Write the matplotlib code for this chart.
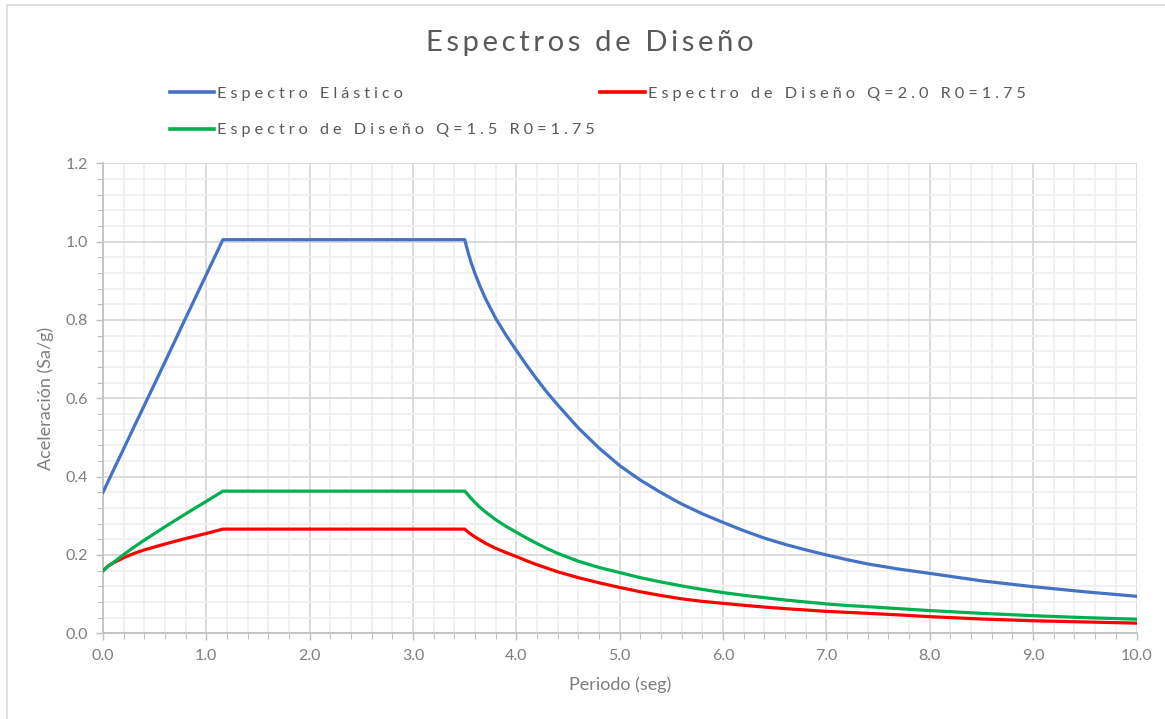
import numpy as np
import matplotlib
matplotlib.use('agg')
import matplotlib.pyplot as plt
import matplotlib.ticker as ticker
from matplotlib.lines import Line2D
from matplotlib.patches import Rectangle

# periodos (seg)
periodos = [0.0, 0.05, 0.1, 0.2, 0.3, 0.4, 0.6, 0.8, 1.0, 1.16,
            3.5, 3.53, 3.56, 3.6, 3.65, 3.7, 3.8, 3.9, 4.0, 4.1, 4.2, 4.3, 4.4, 4.6,
            4.8, 5.0, 5.2, 5.4, 5.6, 5.8, 6.0, 6.2, 6.4, 6.6, 6.8, 7.0, 7.2, 7.4, 7.7, 8.0,
            8.5, 9.0, 9.5, 10.0]
elastico = [0.36, 0.388, 0.416, 0.471, 0.527, 0.582, 0.693, 0.805, 0.916, 1.005,
            1.005, 0.975, 0.948, 0.918, 0.885, 0.855, 0.804, 0.761, 0.722, 0.684, 0.648, 0.614,
            0.583, 0.524, 0.473, 0.428, 0.391, 0.359, 0.330, 0.305, 0.283, 0.262,
            0.243, 0.227, 0.213, 0.200, 0.188, 0.177, 0.164, 0.153, 0.134, 0.119, 0.106, 0.0945]
diseno_q20 = [0.16, 0.172, 0.180, 0.193, 0.204, 0.213, 0.228, 0.242, 0.255, 0.266,
              0.266, 0.259, 0.253, 0.246, 0.238, 0.230, 0.217, 0.206, 0.196, 0.185, 0.175, 0.166,
              0.157, 0.142, 0.129, 0.117, 0.106, 0.0965, 0.088, 0.0815, 0.0765,
              0.0715, 0.067, 0.063, 0.0595, 0.056, 0.0535, 0.051, 0.047, 0.0425, 0.0365, 0.032,
              0.029, 0.026]
diseno_q15 = [0.16, 0.171, 0.181, 0.201, 0.220, 0.238, 0.272, 0.305, 0.337, 0.363,
              0.363, 0.354, 0.345, 0.334, 0.321, 0.310, 0.290, 0.273, 0.258, 0.243, 0.229, 0.216,
              0.204, 0.184, 0.168, 0.155, 0.142, 0.131, 0.121, 0.112, 0.104, 0.097,
              0.091, 0.085, 0.080, 0.075, 0.071, 0.068, 0.063, 0.058, 0.051, 0.045, 0.040, 0.036]

series = [('Espectro Elástico', elastico, '#4472C4'),
          ('Espectro de Diseño Q=2.0 R0=1.75', diseno_q20, '#FF0000'),
          ('Espectro de Diseño Q=1.5 R0=1.75', diseno_q15, '#00B050')]


def spaced(s, sep='\u2009'):
    # imitar el espaciado entre letras de Excel
    return sep.join(s)


plt.rcParams['font.family'] = ['Lato', 'DejaVu Sans']
gris = '#7F7F7F'

fig = plt.figure(figsize=(11.65, 7.19), dpi=100)
fig.patches.append(Rectangle((7 / 1165, -0.1), 1.2, 1.1 - 5 / 719, transform=fig.transFigure,
                             fill=False, edgecolor='#D9D9D9', linewidth=1.2))
ax = fig.add_axes([103 / 1165, 1 - 633.3 / 719, (1136.5 - 103) / 1165, (633.3 - 163.3) / 719])

for nombre, valores, color in series:
    ax.plot(periodos, valores, color=color, linewidth=2.3, solid_joinstyle='round', zorder=3)

ax.set_xlim(0, 10)
ax.set_ylim(0, 1.2)
ax.xaxis.set_major_locator(ticker.MultipleLocator(1.0))
ax.xaxis.set_minor_locator(ticker.MultipleLocator(0.2))
ax.yaxis.set_major_locator(ticker.MultipleLocator(0.2))
ax.yaxis.set_minor_locator(ticker.MultipleLocator(0.04))
ax.xaxis.set_major_formatter(ticker.StrMethodFormatter('{x:.1f}'))
ax.yaxis.set_major_formatter(ticker.StrMethodFormatter('{x:.1f}'))
ax.grid(which='major', color='#D9D9D9', linewidth=1.3)
ax.grid(which='minor', color='#F0F0F0', linewidth=1.3)
ax.set_axisbelow(True)
for s in ['top', 'right']:
    ax.spines[s].set_visible(False)
for s in ['left', 'bottom']:
    ax.spines[s].set_color('#BFBFBF')
    ax.spines[s].set_linewidth(1.2)
ax.tick_params(which='both', colors='#BFBFBF', labelcolor=gris, labelsize=11.5, direction='out')
ax.tick_params(which='major', length=5, width=1.0, pad=6)
ax.tick_params(which='minor', length=4, width=0.8)
ax.set_xlabel('Periodo (seg)', fontsize=13, color=gris, labelpad=10)
ax.set_ylabel('Aceleración (Sa/g)', fontsize=13, color=gris, labelpad=8)

fig.text(590 / 1165, 1 - 43 / 719, spaced('Espectros de Diseño'), ha='center', va='center',
         fontsize=21, color='#595959')

handles = [Line2D([], [], color=c, linewidth=2.6) for _, _, c in series]
labels = [spaced(n, '\u2009\u200a\u200a') for n, _, _ in series]
# orden columna por columna: Elastico, Q=1.5 | Q=2.0
leg = fig.legend([handles[0], handles[2], handles[1]], [labels[0], labels[2], labels[1]],
                 ncol=2, loc='upper left', bbox_to_anchor=(163 / 1165, 1 - 80 / 719), frameon=False,
                 fontsize=11.7, handlelength=2.75, handletextpad=0.2, columnspacing=0.3,
                 labelspacing=1.35, borderaxespad=0)
for t in leg.get_texts():
    t.set_color('#595959')

fig.savefig('out.png', dpi=100)
